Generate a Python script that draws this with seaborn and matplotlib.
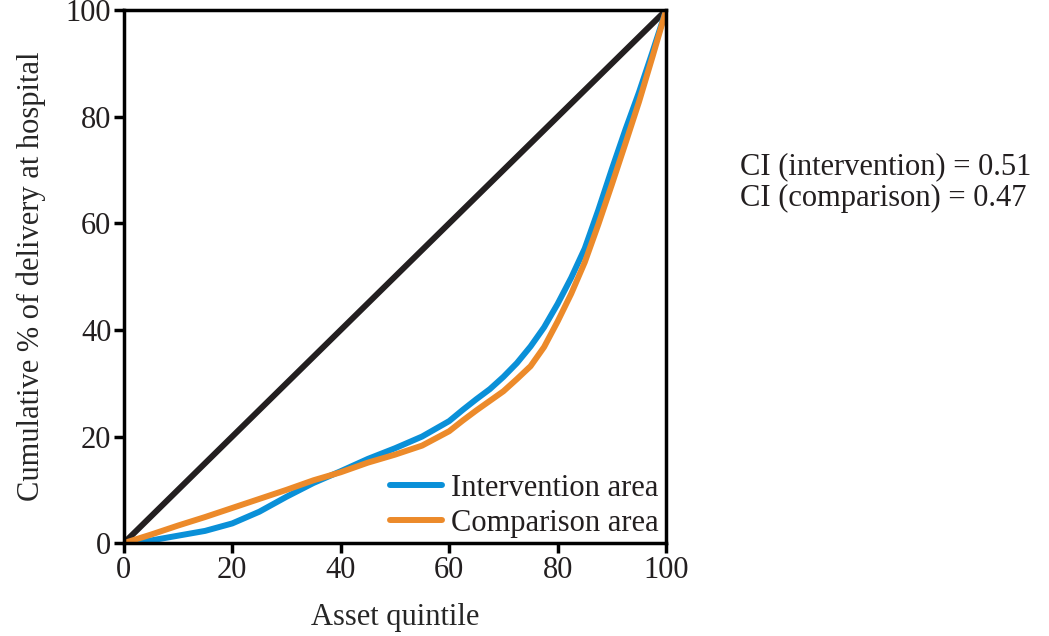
import pandas as pd
import matplotlib.pyplot as plt
import seaborn as sns

# Cumulative share of population ranked by asset index (%)
asset_pct = [0, 5, 10, 15, 20, 25, 30, 35, 40, 45, 50, 55, 60, 62.5, 65, 67.5, 70,
             72.5, 75, 77.5, 80, 82.5, 85, 87.5, 90, 92.5, 95, 97.5, 100]

# Cumulative % of hospital deliveries (concentration curves)
intervention = [0, 0.5, 1.4, 2.3, 3.7, 5.9, 8.7, 11.3, 13.5, 15.8, 17.8, 20.0, 22.9, 25.0, 27.0, 28.9, 31.2,
                33.8, 36.9, 40.5, 44.9, 49.8, 55.3, 62.5, 70.2, 77.6, 84.6, 92.2, 100]
comparison = [0, 1.6, 3.3, 4.9, 6.6, 8.3, 10.0, 11.8, 13.3, 15.1, 16.6, 18.3, 21.0, 23.0, 24.9, 26.7, 28.5,
              30.8, 33.2, 36.8, 41.6, 46.8, 52.7, 59.8, 67.3, 75.0, 82.8, 91.3, 100]

# Line of equality
equality_x = [0, 100]
equality_y = [0, 100]

ci_labels = ["CI (intervention) = 0.51", "CI (comparison) = 0.47"]

df = pd.DataFrame({
    "x": asset_pct * 2,
    "y": intervention + comparison,
    "Area": ["Intervention area"] * len(asset_pct) + ["Comparison area"] * len(asset_pct),
})
eq = pd.DataFrame({"x": equality_x, "y": equality_y})

sns.set_theme(style="white")
plt.rcParams['font.family'] = ['Liberation Serif', 'DejaVu Serif']
plt.rcParams['text.color'] = '#231f20'

fig = plt.figure(figsize=(10.49, 6.36), dpi=100)
ax = fig.add_axes([0.118, 0.146, 0.517, 0.838])

sns.lineplot(data=eq, x="x", y="y", color="#231f20", linewidth=4.3, ax=ax)
sns.lineplot(data=df, x="x", y="y", hue="Area",
             palette={"Intervention area": "#0a90d8", "Comparison area": "#ec8a2a"},
             linewidth=4.3, ax=ax)

ax.set_xlim(0, 100)
ax.set_ylim(0, 100)
ax.set_xticks([0, 20, 40, 60, 80, 100])
ax.set_yticks([0, 20, 40, 60, 80, 100])
ax.tick_params(axis='both', direction='out', length=7, width=2.5, color='black',
               labelsize=22, labelcolor='#231f20', bottom=True, left=True, pad=2)
for s in ax.spines.values():
    s.set_color('black')
    s.set_linewidth(2.5)

ax.set_xlabel("Asset quintile", fontsize=22, labelpad=13)
ax.set_ylabel("Cumulative % of delivery at hospital", fontsize=22, labelpad=14)

ax.legend(loc='lower right', bbox_to_anchor=(1.02, -0.025), frameon=False, fontsize=22,
          handlelength=1.7, handletextpad=0.3, labelspacing=0.2, borderaxespad=0.2)

fig.text(0.705, 0.726, ci_labels[0], fontsize=22, color='#231f20')
fig.text(0.705, 0.676, ci_labels[1], fontsize=22, color='#231f20')

fig.savefig("out.png", dpi=100)
